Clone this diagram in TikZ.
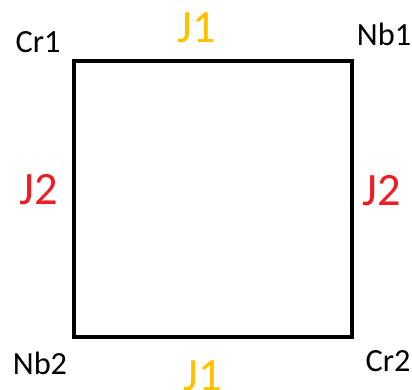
\documentclass[tikz,border=0pt]{standalone}
\usepackage{fontspec}
\setmainfont{Carlito}
\definecolor{jgold}{HTML}{FFC000}
\definecolor{jred}{HTML}{EE1C25}
\begin{document}
\begin{tikzpicture}[
    x=0.025cm, y=-0.025cm,
    site/.style={anchor=base, inner sep=0pt, font=\fontsize{23}{26}\selectfont},
    coupling/.style={anchor=base, inner sep=0pt, font=\fontsize{33}{38}\selectfont},
    jone/.style={coupling, text=jgold},
    jtwo/.style={coupling, text=jred},
    bond/.style={draw, line width=2.85pt, line join=miter}
]
\useasboundingbox (0,0) rectangle (412,389);

% Define corner positions
\coordinate (c_tl) at (74,61);
\coordinate (c_tr) at (352,61);
\coordinate (c_br) at (352,337);
\coordinate (c_bl) at (74,337);

% Square of bonds
\draw[bond] (c_tl) -- (c_tr) -- (c_br) -- (c_bl) -- cycle;

% Atom labels
\node[site] (cr1) at (38,52) {Cr1};
\node[site] (nb1) at (384,45) {Nb1};
\node[site] (nb2) at (40,374) {Nb2};
\node[site] (cr2) at (388,371) {Cr2};

% Coupling labels
\node[jone] (j1_top) at (197,42.5) {J1};
\node[jone] (j1_bot) at (203,390) {J1};
\node[jtwo] (j2_left) at (39,204) {J2};
\node[jtwo] (j2_right) at (382,205) {J2};

\end{tikzpicture}
\end{document}
